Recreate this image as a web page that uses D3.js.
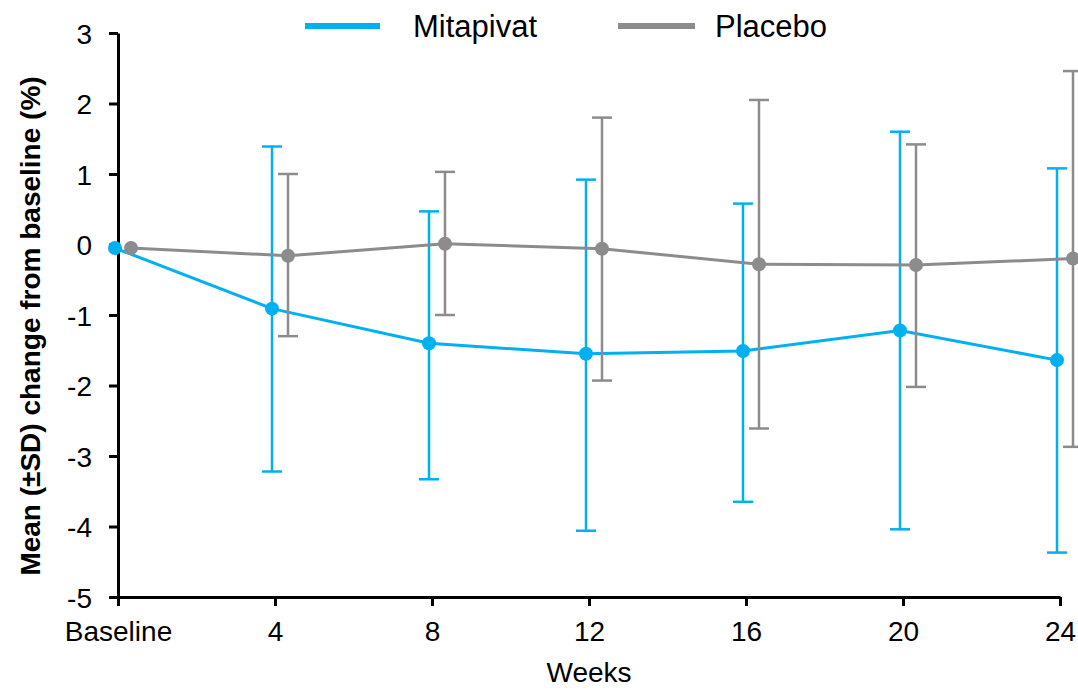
<!DOCTYPE html>
<html>
<head>
<meta charset="utf-8">
<script src="https://cdn.jsdelivr.net/npm/d3@7"></script>
<style>
  body { margin: 0; background: #fff; }
  svg { display: block; font-family: "Liberation Sans", Arial, sans-serif; }
</style>
</head>
<body>
<svg width="1078" height="690"></svg>
<script>
const weeks = [0, 4, 8, 12, 16, 20, 24];
const weekLabels = ["Baseline", "4", "8", "12", "16", "20", "24"];
const yTicks = [-5, -4, -3, -2, -1, 0, 1, 2, 3];

const mitaMean = [-0.05, -0.91, -1.40, -1.55, -1.51, -1.22, -1.64];
const mitaHi   = [null, 1.39, 0.47, 0.92, 0.58, 1.60, 1.08];
const mitaLo   = [null, -3.22, -3.33, -4.06, -3.65, -4.04, -4.37];

const placMean = [-0.05, -0.16, 0.01, -0.06, -0.28, -0.29, -0.20];
const placHi   = [null, 1.00, 1.03, 1.80, 2.05, 1.42, 2.46];
const placLo   = [null, -1.30, -1.00, -1.93, -2.61, -2.02, -2.87];

const series = [
  { name: "Mitapivat", colour: "#00b0f0", dx: -3, mean: mitaMean, hi: mitaHi, lo: mitaLo,
    legend: { x1: 305, x2: 380, tx: 413 } },
  { name: "Placebo", colour: "#8c8c8c", dx: 13, mean: placMean, hi: placHi, lo: placLo,
    legend: { x1: 618, x2: 695, tx: 715 } }
];

const svg = d3.select("svg");
const x = d3.scaleLinear().domain([0, 24]).range([118, 1060]);
const y = d3.scaleLinear().domain([-5, 3]).range([597, 33]);

// axes
const xAxis = svg.append("g")
  .attr("transform", `translate(0,${y(-5)})`)
  .call(d3.axisBottom(x).tickValues(weeks).tickFormat((d, i) => weekLabels[i])
    .tickSize(9).tickPadding(15).tickSizeOuter(0));
const yAxis = svg.append("g")
  .attr("transform", `translate(${x(0)},0)`)
  .call(d3.axisLeft(y).tickValues(yTicks).tickFormat(d => String(d))
    .tickSize(9).tickPadding(17).tickSizeOuter(0));

[xAxis, yAxis].forEach(a => {
  a.select(".domain").attr("stroke", "#000").attr("stroke-width", 3);
  a.selectAll(".tick line").attr("stroke", "#000").attr("stroke-width", 3);
  a.selectAll(".tick text").attr("fill", "#000")
    .style("font-size", "28px").style("font-family", "Liberation Sans, Arial, sans-serif");
});
yAxis.selectAll(".tick text").attr("dy", "0.36em");

// series: error bars, lines, dots
series.forEach(s => {
  const g = svg.append("g");
  const pts = weeks.map((w, i) => ({ w, m: s.mean[i], hi: s.hi[i], lo: s.lo[i] }));
  const px = d => x(d.w) + s.dx;

  const eb = g.selectAll(".eb").data(pts.filter(d => d.hi != null)).enter().append("g");
  eb.append("line")
    .attr("x1", px).attr("x2", px)
    .attr("y1", d => y(d.hi)).attr("y2", d => y(d.lo))
    .attr("stroke", s.colour).attr("stroke-width", 2.5);
  ["hi", "lo"].forEach(k => {
    eb.append("line")
      .attr("x1", d => px(d) - 10).attr("x2", d => px(d) + 10)
      .attr("y1", d => y(d[k])).attr("y2", d => y(d[k]))
      .attr("stroke", s.colour).attr("stroke-width", 2.5);
  });

  g.append("path")
    .datum(pts)
    .attr("fill", "none")
    .attr("stroke", s.colour)
    .attr("stroke-width", 3)
    .attr("d", d3.line().x(px).y(d => y(d.m)));

  g.selectAll("circle").data(pts).enter().append("circle")
    .attr("cx", px).attr("cy", d => y(d.m))
    .attr("r", 7).attr("fill", s.colour);
});

// legend
series.forEach(s => {
  svg.append("line")
    .attr("x1", s.legend.x1).attr("x2", s.legend.x2).attr("y1", 26).attr("y2", 26)
    .attr("stroke", s.colour).attr("stroke-width", 6);
  svg.append("text").attr("x", s.legend.tx).attr("y", 37)
    .style("font-size", "31px").attr("fill", "#000").text(s.name);
});

// axis titles
svg.append("text")
  .attr("transform", "translate(40,326) rotate(-90)")
  .attr("text-anchor", "middle")
  .style("font-size", "28px").style("font-weight", "bold")
  .text("Mean (±SD) change from baseline (%)");

svg.append("text")
  .attr("x", 589).attr("y", 682)
  .attr("text-anchor", "middle")
  .style("font-size", "28px")
  .text("Weeks");
</script>
</body>
</html>
